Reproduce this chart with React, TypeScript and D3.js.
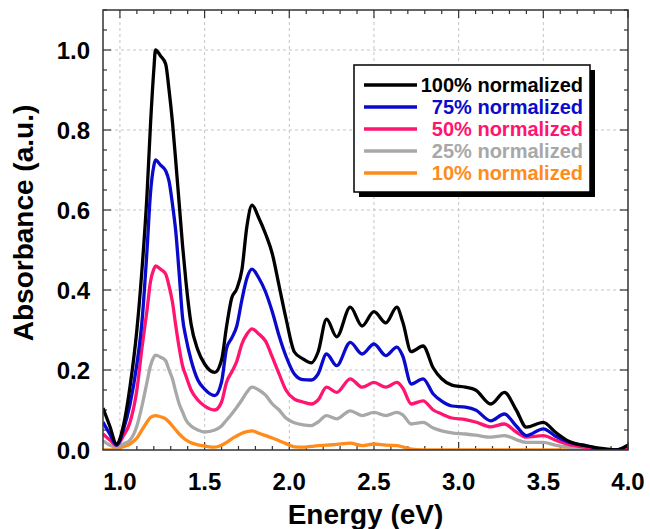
import React, { useEffect, useRef } from "react";
import * as d3 from "d3";

// photon energy (eV) sample points
const energy = [
  0.9, 0.94, 0.98, 1.02, 1.06, 1.1, 1.13, 1.16, 1.18, 1.2, 1.21, 1.24, 1.27, 1.29, 1.31, 1.33, 1.35,
  1.37, 1.39, 1.42, 1.46, 1.5, 1.56, 1.6, 1.63, 1.66, 1.69, 1.72, 1.75, 1.78, 1.82, 1.86, 1.9, 1.94,
  1.98, 2.03, 2.08, 2.13, 2.17, 2.22, 2.28, 2.36, 2.43, 2.5, 2.57, 2.635, 2.67, 2.72, 2.79, 2.85, 2.9,
  2.96, 3.04, 3.1, 3.19, 3.27, 3.34, 3.4, 3.5, 3.57, 3.65, 3.76, 3.88, 3.93, 4.0,
];

const abs100 = [
  0.105, 0.06, 0.015, 0.06, 0.16, 0.3, 0.45, 0.64, 0.81, 0.95, 1.0, 0.985, 0.965, 0.9, 0.82, 0.72, 0.615,
  0.51, 0.42, 0.315, 0.25, 0.215, 0.194, 0.225, 0.31, 0.38, 0.403, 0.45, 0.56, 0.612, 0.58, 0.54, 0.49, 0.41,
  0.33, 0.245, 0.228, 0.218, 0.245, 0.327, 0.283, 0.357, 0.31, 0.346, 0.318, 0.357, 0.32, 0.246, 0.26, 0.205, 0.178,
  0.162, 0.157, 0.15, 0.115, 0.144, 0.1, 0.057, 0.069, 0.045, 0.022, 0.01, 0.002, 0.0, 0.012,
];
const abs75 = [
  0.07, 0.04, 0.012, 0.05, 0.115, 0.215, 0.32, 0.5, 0.64, 0.71, 0.725, 0.712, 0.698, 0.672, 0.615, 0.545, 0.44,
  0.33, 0.28, 0.225, 0.175, 0.152, 0.136, 0.17, 0.255, 0.28, 0.31, 0.375, 0.43, 0.452, 0.43, 0.395, 0.345, 0.285,
  0.235, 0.19, 0.176, 0.175, 0.19, 0.24, 0.211, 0.269, 0.24, 0.265, 0.236, 0.257, 0.235, 0.165, 0.178, 0.14, 0.122,
  0.11, 0.107, 0.1, 0.073, 0.09, 0.06, 0.036, 0.053, 0.035, 0.02, 0.01, 0.0, 0.0, 0.012,
];
const abs50 = [
  0.04, 0.025, 0.012, 0.035, 0.07, 0.15, 0.255, 0.35, 0.42, 0.452, 0.46, 0.452, 0.44, 0.41, 0.37, 0.31, 0.255,
  0.21, 0.185, 0.15, 0.125, 0.11, 0.1, 0.12, 0.17, 0.195, 0.222, 0.265, 0.29, 0.303, 0.29, 0.272, 0.232, 0.19,
  0.15, 0.127, 0.12, 0.115, 0.125, 0.157, 0.144, 0.178, 0.157, 0.169, 0.157, 0.169, 0.155, 0.115, 0.123, 0.1, 0.09,
  0.08, 0.076, 0.07, 0.058, 0.065, 0.045, 0.032, 0.036, 0.025, 0.014, 0.006, 0.0, 0.0, 0.005,
];
const abs25 = [
  0.023, 0.012, 0.007, 0.015, 0.025, 0.06, 0.11, 0.17, 0.21, 0.232, 0.237, 0.232, 0.223, 0.2, 0.178, 0.145, 0.115,
  0.095, 0.075, 0.06, 0.05, 0.045, 0.05, 0.06, 0.075, 0.09, 0.107, 0.125, 0.145, 0.157, 0.15, 0.137, 0.115, 0.1,
  0.08, 0.068, 0.063, 0.061, 0.07, 0.086, 0.078, 0.098, 0.086, 0.094, 0.086, 0.094, 0.088, 0.065, 0.069, 0.055, 0.048,
  0.043, 0.04, 0.037, 0.032, 0.036, 0.026, 0.019, 0.019, 0.012, 0.007, 0.003, 0.0, 0.0, 0.0,
];
const abs10 = [
  0.0, 0.0, 0.003, 0.008, 0.015, 0.03, 0.05, 0.07, 0.081, 0.085, 0.086, 0.083, 0.078, 0.07, 0.06, 0.05, 0.04,
  0.032, 0.025, 0.018, 0.013, 0.01, 0.007, 0.012, 0.019, 0.028, 0.035, 0.042, 0.046, 0.048, 0.042, 0.036, 0.03, 0.023,
  0.016, 0.008, 0.007, 0.009, 0.011, 0.012, 0.014, 0.017, 0.011, 0.015, 0.012, 0.011, 0.008, 0.002, 0.0, 0.0, 0.0,
  0.0, 0.0, 0.0, 0.0, 0.0, 0.0, 0.0, 0.0, 0.0, 0.0, 0.0, 0.0, 0.0, 0.0,
];

const seriesNames = ["100% normalized", "75% normalized", "50% normalized", "25% normalized", "10% normalized"];
const seriesValues = [abs100, abs75, abs50, abs25, abs10];
const seriesColors = ["#000000", "#0a0acc", "#ff1470", "#a8a8a8", "#ff8c1a"];

const xTickLabels = [1.0, 1.5, 2.0, 2.5, 3.0, 3.5, 4.0];
const yTickLabels = [0.0, 0.2, 0.4, 0.6, 0.8, 1.0];

document.body.style.margin = "0";

export default function App() {
  const svgRef = useRef<SVGSVGElement>(null);

  useEffect(() => {
    const width = 650;
    const height = 529;
    const left = 103;
    const right = 628;
    const top = 10;
    const bottom = 450;
    const font = "'Liberation Sans', Arial, sans-serif";

    const svg = d3.select(svgRef.current);
    svg.selectAll("*").remove();
    svg.attr("width", width).attr("height", height);

    const x = d3.scaleLinear().domain([0.9, 4.0]).range([left, right]);
    const y = d3.scaleLinear().domain([0, 1.1]).range([bottom, top]);

    // dashed grid
    const grid = svg.append("g").attr("stroke", "#c4c4c4").attr("stroke-dasharray", "3,3").attr("stroke-width", 1);
    xTickLabels.filter((v) => v < 4).forEach((v) => {
      grid.append("line").attr("x1", x(v)).attr("x2", x(v)).attr("y1", top).attr("y2", bottom);
    });
    yTickLabels.filter((v) => v > 0).forEach((v) => {
      grid.append("line").attr("x1", left).attr("x2", right).attr("y1", y(v)).attr("y2", y(v));
    });

    // ticks on all four sides, pointing inward
    const ticks = svg.append("g").attr("stroke", "#333").attr("stroke-width", 1.2);
    d3.range(10, 41).map((d) => d / 10).forEach((v) => {
      const len = Math.abs(v * 2 - Math.round(v * 2)) < 1e-6 ? 8 : 4;
      ticks.append("line").attr("x1", x(v)).attr("x2", x(v)).attr("y1", bottom).attr("y2", bottom - len);
      ticks.append("line").attr("x1", x(v)).attr("x2", x(v)).attr("y1", top).attr("y2", top + len);
    });
    d3.range(1, 23).map((d) => d / 20).forEach((v) => {
      const len = Math.abs(v * 5 - Math.round(v * 5)) < 1e-6 ? 8 : 4;
      ticks.append("line").attr("x1", left).attr("x2", left + len).attr("y1", y(v)).attr("y2", y(v));
      ticks.append("line").attr("x1", right).attr("x2", right - len).attr("y1", y(v)).attr("y2", y(v));
    });

    // curves
    svg
      .append("defs")
      .append("clipPath")
      .attr("id", "plot-clip")
      .append("rect")
      .attr("x", left)
      .attr("y", top)
      .attr("width", right - left)
      .attr("height", bottom - top);

    const line = d3
      .line<number>()
      .x((d, i) => x(energy[i]))
      .y((d) => y(d))
      .curve(d3.curveMonotoneX);

    const curves = svg.append("g").attr("clip-path", "url(#plot-clip)");
    seriesValues
      .map((vals, i) => ({ vals, color: seriesColors[i] }))
      .reverse()
      .forEach((s) => {
        curves
          .append("path")
          .attr("d", line(s.vals))
          .attr("fill", "none")
          .attr("stroke", s.color)
          .attr("stroke-width", 3.3)
          .attr("stroke-linejoin", "round");
      });

    // frame
    svg
      .append("rect")
      .attr("x", left)
      .attr("y", top)
      .attr("width", right - left)
      .attr("height", bottom - top)
      .attr("fill", "none")
      .attr("stroke", "#333")
      .attr("stroke-width", 1.5);

    // tick labels
    svg
      .selectAll("text.xlab")
      .data(xTickLabels)
      .join("text")
      .attr("class", "xlab")
      .attr("x", (d) => x(d))
      .attr("y", 490)
      .attr("text-anchor", "middle")
      .style("font", `bold 24px ${font}`)
      .text((d) => d.toFixed(1));

    svg
      .selectAll("text.ylab")
      .data(yTickLabels)
      .join("text")
      .attr("class", "ylab")
      .attr("x", 90)
      .attr("y", (d) => y(d) + 9)
      .attr("text-anchor", "end")
      .style("font", `bold 24px ${font}`)
      .text((d) => d.toFixed(1));

    // axis titles
    svg
      .append("text")
      .attr("x", (left + right) / 2)
      .attr("y", 524)
      .attr("text-anchor", "middle")
      .style("font", `bold 28px ${font}`)
      .text("Energy (eV)");

    svg
      .append("text")
      .attr("transform", "translate(33,223) rotate(-90)")
      .attr("text-anchor", "middle")
      .style("font", `bold 28px ${font}`)
      .text("Absorbance (a.u.)");

    // legend with drop shadow
    const lg = svg.append("g");
    lg.append("rect").attr("x", 359).attr("y", 70).attr("width", 236).attr("height", 127).attr("fill", "#000");
    lg.append("rect")
      .attr("x", 354)
      .attr("y", 65)
      .attr("width", 236)
      .attr("height", 127)
      .attr("fill", "#fff")
      .attr("stroke", "#000")
      .attr("stroke-width", 1.5);

    seriesNames.forEach((name, i) => {
      const ry = 85 + i * 22;
      lg.append("line")
        .attr("x1", 364)
        .attr("x2", 417)
        .attr("y1", ry)
        .attr("y2", ry)
        .attr("stroke", seriesColors[i])
        .attr("stroke-width", 3.3);
      lg.append("text")
        .attr("x", 583)
        .attr("y", ry + 7)
        .attr("text-anchor", "end")
        .attr("fill", seriesColors[i])
        .style("font", `bold 20px ${font}`)
        .text(name);
    });
  }, []);

  return <svg ref={svgRef} style={{ display: "block" }} />;
}
